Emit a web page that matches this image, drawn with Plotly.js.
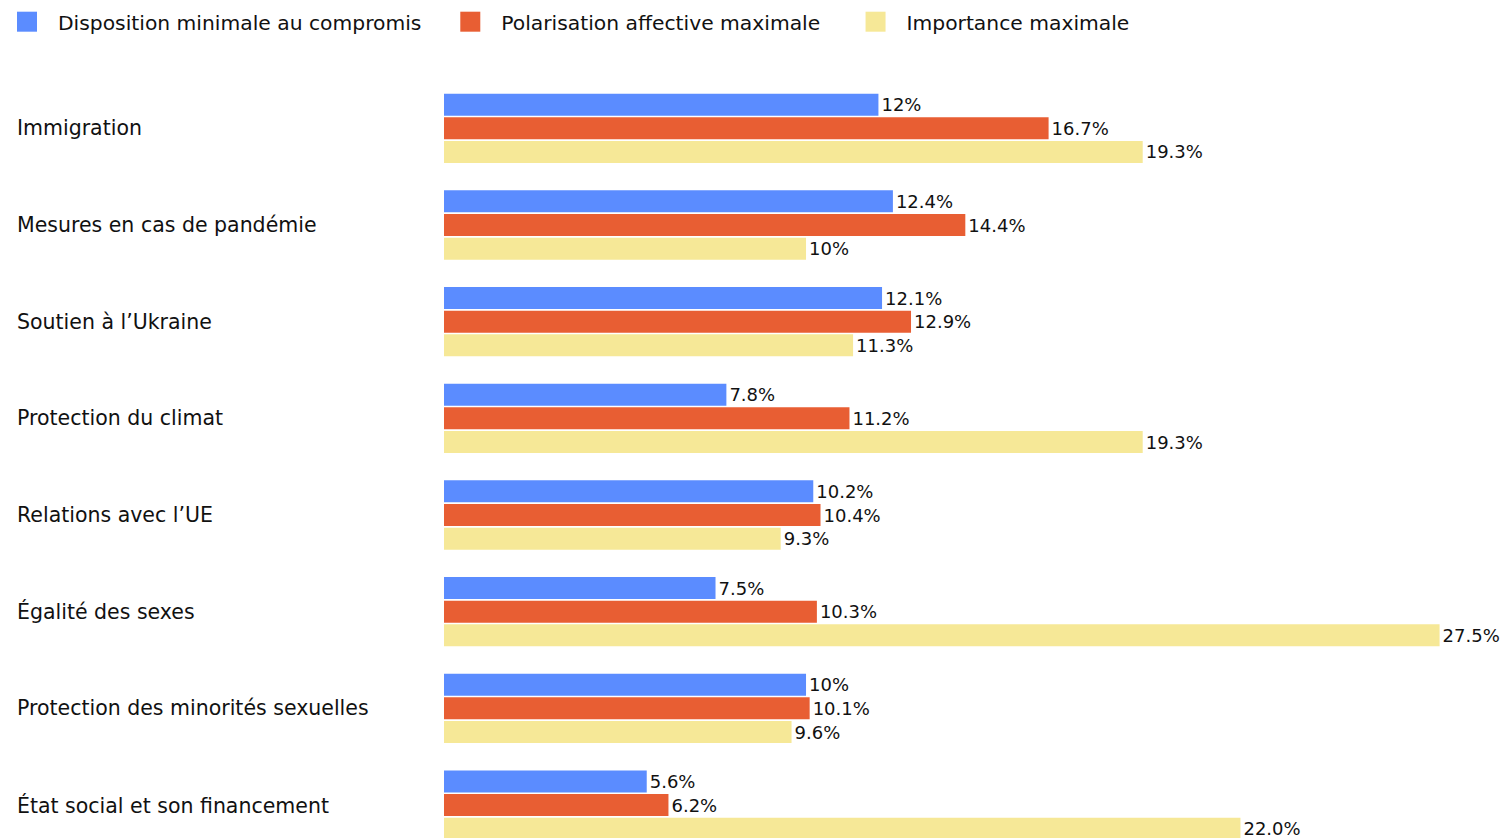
<!DOCTYPE html>
<html>
<head>
<meta charset="utf-8">
<script src="https://cdn.plot.ly/plotly-3.0.1.min.js"></script>
<style>html,body{margin:0;padding:0;background:#fff;}#chart{width:1508px;height:838px;}</style>
</head>
<body>
<div id="chart"></div>
<script>
const categories = [
  "Immigration",
  "Mesures en cas de pandémie",
  "Soutien à l’Ukraine",
  "Protection du climat",
  "Relations avec l’UE",
  "Égalité des sexes",
  "Protection des minorités sexuelles",
  "État social et son financement"
];
const seriesNames = ["Disposition minimale au compromis", "Polarisation affective maximale", "Importance maximale"];
const compromis = [12, 12.4, 12.1, 7.8, 10.2, 7.5, 10, 5.6];
const polarisation = [16.7, 14.4, 12.9, 11.2, 10.4, 10.3, 10.1, 6.2];
const importance = [19.3, 10, 11.3, 19.3, 9.3, 27.5, 9.6, 22.0];
const compromisLabels = ["12%", "12.4%", "12.1%", "7.8%", "10.2%", "7.5%", "10%", "5.6%"];
const polarisationLabels = ["16.7%", "14.4%", "12.9%", "11.2%", "10.4%", "10.3%", "10.1%", "6.2%"];
const importanceLabels = ["19.3%", "10%", "11.3%", "19.3%", "9.3%", "27.5%", "9.6%", "22.0%"];
const colors = ["#5b8cff", "#e85e33", "#f6e897"];

const FONT = "'DejaVu Sans', Inter, sans-serif";
const values = [compromis, polarisation, importance];
const labels = [compromisLabels, polarisationLabels, importanceLabels];
const nameSpacers = ["\u00a0\u00a0", "\u00a0\u00a0\u00a0", ""];

const traces = values.map((v, i) => ({
  type: "bar",
  orientation: "h",
  name: seriesNames[i] + nameSpacers[i],
  x: v,
  y: categories,
  text: labels[i],
  textposition: "outside",
  constraintext: "none",
  cliponaxis: false,
  textfont: {family: FONT, size: 18, color: "#111"},
  marker: {color: colors[i], line: {width: 0}},
  hoverinfo: "x+y"
}));

const annotations = categories.map(c => ({
  xref: "paper", yref: "y",
  x: (15 - 444) / 1064, y: c,
  xanchor: "left", yanchor: "middle",
  text: c, showarrow: false,
  font: {family: FONT, size: 20.5, color: "#111"}
}));

const layout = {
  width: 1508, height: 838,
  margin: {l: 444, r: 0, t: 80, b: 0, pad: 0, autoexpand: false},
  paper_bgcolor: "#fff", plot_bgcolor: "#fff",
  barmode: "group",
  bargap: 0.266,
  bargroupgap: 0.07,
  showlegend: true,
  legend: {
    orientation: "h",
    xref: "paper", yref: "paper",
    x: (-4 - 444) / 1064, y: 1 + 78 / 758, xanchor: "left", yanchor: "top",
    font: {family: FONT, size: 20.3, color: "#111"},
    itemwidth: 52,
    tracegroupgap: 0,
    traceorder: "normal"
  },
  xaxis: {range: [0, 29.39], visible: false, fixedrange: true},
  yaxis: {
    type: "category",
    range: [7.341, -0.5],
    showticklabels: false,
    showgrid: false, zeroline: false, showline: false, ticks: "",
    fixedrange: true
  },
  annotations: annotations,
  font: {family: FONT}
};

Plotly.newPlot("chart", traces, layout, {displayModeBar: false, staticPlot: true}).then(() => {
  document.querySelectorAll("#chart .legendpoints path").forEach(p => {
    p.setAttribute("d", "M10,10H-10V-10H10Z");
  });
});
</script>
</body>
</html>
